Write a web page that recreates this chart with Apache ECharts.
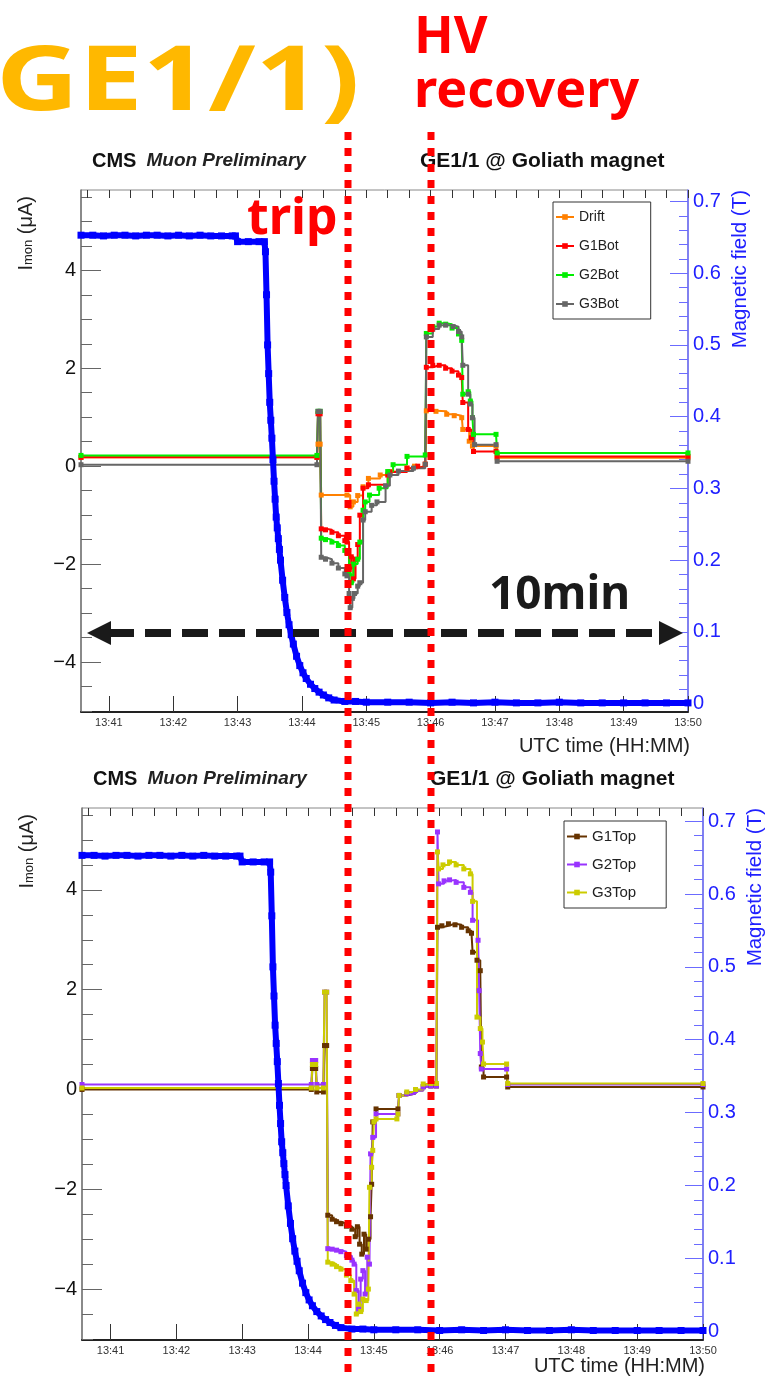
<!DOCTYPE html>
<html>
<head>
<meta charset="utf-8">
<script src="https://cdn.jsdelivr.net/npm/echarts@6/dist/echarts.min.js"></script>
<style>
html, body { margin: 0; padding: 0; background: #fff; }
#main { width: 780px; height: 1387px; }
</style>
</head>
<body>
<div id="main"></div>
<script>
// time in seconds after 13:40:00 UTC
var timeTicks = [60, 120, 180, 240, 300, 360, 420, 480, 540, 600];
var timeLabels = ['13:41', '13:42', '13:43', '13:44', '13:45', '13:46', '13:47', '13:48', '13:49', '13:50'];
var currentTicks = [-4, -2, 0, 2, 4];
var currentLabels = ['\u22124', '\u22122', '0', '2', '4'];
var fieldTicks = [0, 0.1, 0.2, 0.3, 0.4, 0.5, 0.6, 0.7];
var fieldLabels = ['0', '0.1', '0.2', '0.3', '0.4', '0.5', '0.6', '0.7'];

// magnetic field (T)
var bField = [
  [34, 0.653], [45, 0.653], [55, 0.652], [65, 0.653], [75, 0.653], [85, 0.652], [95, 0.653],
  [105, 0.653], [115, 0.652], [125, 0.653], [135, 0.652], [145, 0.653], [155, 0.652], [165, 0.652],
  [175, 0.652], [178, 0.652], [180, 0.644], [190, 0.644], [200, 0.644], [205, 0.644], [206, 0.63],
  [207, 0.57], [208, 0.5], [209, 0.46], [210, 0.42], [211, 0.395], [212, 0.37], [213, 0.34],
  [214, 0.31], [215, 0.285], [216, 0.26], [217, 0.245], [218, 0.23], [219, 0.215], [220, 0.2],
  [222, 0.172], [224, 0.148], [226, 0.127], [228, 0.11], [230, 0.096], [232, 0.083], [235, 0.066],
  [238, 0.053], [241, 0.043], [244, 0.035], [248, 0.027], [252, 0.021], [256, 0.016], [260, 0.012],
  [265, 0.008], [270, 0.005], [280, 0.003], [290, 0.003], [300, 0.002], [320, 0.002], [340, 0.002],
  [360, 0.001], [380, 0.002], [400, 0.001], [420, 0.002], [440, 0.001], [460, 0.001], [480, 0.002],
  [500, 0.001], [520, 0.001], [540, 0.001], [560, 0.001], [580, 0.001], [600, 0.001]
];

// Imon (uA), bottom electrodes
var drift = [
  [34, 0.18], [254, 0.18], [255, 0.45], [257, 0.45], [258, -0.59], [282, -0.59], [285, -0.83],
  [288, -0.73], [292, -0.6], [297, -0.42], [302, -0.25], [313, -0.18], [322, -0.11], [338, -0.04],
  [345, 0.0], [355, 0.04], [356, 1.13], [365, 1.12], [375, 1.06], [382, 1.03], [389, 0.99],
  [390, 0.75], [396, 0.51], [399, 0.41], [421, 0.41], [422, 0.17], [600, 0.17]
];
var g1Bot = [
  [34, 0.18], [254, 0.18], [255, 1.07], [257, 1.07], [258, -1.28], [262, -1.3], [268, -1.35],
  [274, -1.42], [280, -1.52], [282, -1.55], [284, -2.1], [286, -1.85], [288, -2.3], [290, -1.9],
  [292, -1.6], [294, -1.0], [297, -0.45], [302, -0.38], [320, -0.18], [322, -0.12], [338, -0.04],
  [348, 0.0], [355, 0.04], [356, 2.02], [362, 2.06], [368, 2.06], [374, 2.0], [380, 1.94],
  [386, 1.86], [389, 1.81], [390, 1.3], [395, 0.75], [398, 0.58], [400, 0.3], [421, 0.3],
  [422, 0.2], [600, 0.2]
];
var g2Bot = [
  [34, 0.22], [254, 0.22], [255, 1.12], [257, 1.12], [258, -1.47], [262, -1.5], [268, -1.55],
  [274, -1.62], [280, -1.72], [282, -1.76], [284, -2.2], [286, -2.38], [288, -2.0], [292, -1.9],
  [294, -1.55], [297, -0.9], [299, -0.73], [303, -0.59], [312, -0.45], [320, -0.11], [325, 0.03],
  [338, 0.2], [355, 0.23], [356, 2.71], [362, 2.85], [368, 2.92], [374, 2.9], [380, 2.82],
  [386, 2.7], [389, 2.57], [390, 1.47], [395, 1.52], [397, 1.33], [399, 0.99], [400, 0.65],
  [421, 0.65], [422, 0.27], [600, 0.27]
];
var g3Bot = [
  [34, 0.03], [254, 0.03], [255, 1.12], [257, 1.12], [258, -1.86], [262, -1.9], [268, -1.98],
  [274, -2.08], [280, -2.2], [282, -2.24], [284, -2.6], [285, -2.89], [287, -2.7], [289, -2.6],
  [292, -2.45], [294, -2.38], [297, -1.1], [299, -0.93], [305, -0.8], [310, -0.73], [318, -0.4],
  [322, -0.18], [330, -0.1], [344, -0.04], [355, 0.04], [356, 2.64], [362, 2.8], [368, 2.88],
  [374, 2.88], [381, 2.85], [386, 2.75], [389, 2.64], [390, 2.06], [395, 1.47], [397, 1.27],
  [399, 0.99], [401, 0.44], [421, 0.44], [422, 0.1], [600, 0.1]
];

// Imon (uA), top electrodes
var g1Top = [
  [34, 0.0], [243, 0.0], [244, 0.42], [247, 0.42], [248, -0.05], [254, -0.05], [255, 0.88],
  [257, 0.88], [258, -2.52], [262, -2.6], [266, -2.65], [270, -2.69], [275, -2.74], [280, -2.8],
  [283, -2.95], [285, -2.75], [287, -3.1], [289, -3.3], [291, -2.9], [293, -3.2], [295, -3.0],
  [297, -2.55], [298, -1.9], [299, -0.65], [302, -0.39], [322, -0.39], [323, -0.12], [330, -0.08],
  [338, -0.02], [345, 0.06], [352, 0.07], [357, 0.07], [358, 3.25], [362, 3.28], [368, 3.32],
  [374, 3.3], [380, 3.25], [386, 3.18], [389, 3.13], [390, 2.75], [394, 2.59], [397, 2.38],
  [398, 0.45], [400, 0.25], [421, 0.25], [422, 0.05], [600, 0.05]
];
var g2Top = [
  [34, 0.1], [243, 0.1], [244, 0.58], [247, 0.58], [248, 0.1], [254, 0.1], [255, 1.95],
  [257, 1.95], [258, -3.19], [262, -3.2], [266, -3.22], [270, -3.25], [275, -3.33], [280, -3.42],
  [282, -3.5], [284, -4.03], [286, -4.4], [288, -3.8], [290, -3.63], [292, -4.1], [294, -3.36],
  [296, -3.5], [297, -1.29], [299, -0.96], [302, -0.49], [322, -0.49], [323, -0.12], [330, -0.08],
  [338, -0.02], [345, 0.05], [352, 0.07], [357, 0.07], [358, 5.16], [359, 4.12], [364, 4.18],
  [369, 4.2], [375, 4.15], [382, 4.05], [388, 3.95], [390, 3.39], [395, 2.99], [396, 1.98],
  [397, 0.72], [398, 0.41], [421, 0.41], [422, 0.1], [600, 0.1]
];
var g3Top = [
  [34, 0.03], [243, 0.03], [244, 0.5], [247, 0.5], [248, 0.03], [254, 0.03], [255, 1.95],
  [257, 1.95], [258, -3.46], [262, -3.5], [266, -3.55], [270, -3.6], [275, -3.72], [279, -3.83],
  [282, -4.1], [284, -4.5], [286, -4.3], [288, -4.45], [290, -4.2], [293, -4.23], [295, -4.0],
  [296, -1.96], [298, -1.56], [299, -1.22], [300, -0.65], [302, -0.59], [321, -0.59], [322, -0.49],
  [323, -0.12], [330, -0.05], [338, 0.0], [345, 0.11], [352, 0.12], [357, 0.12], [358, 4.76],
  [359, 4.42], [363, 4.5], [369, 4.56], [375, 4.5], [382, 4.42], [388, 4.32], [390, 3.77],
  [394, 1.45], [397, 1.22], [399, 0.95], [400, 0.51], [421, 0.51], [422, 0.12], [600, 0.12]
];

var FONT = '"Liberation Sans", Arial, sans-serif';
var BIG = '"Noto Sans", "DejaVu Sans", sans-serif';

var minorTime = [];
for (var s = 40; s <= 600; s += 20) minorTime.push(s);
var minorCurrent = [];
for (var c = -10; c <= 11; c++) minorCurrent.push(c / 2);
var minorField = [];
for (var f = 0; f <= 35; f++) minorField.push(Math.round(f * 2) / 100);

const mychart = echarts.init(document.getElementById('main'), null, { renderer: 'canvas' });

function timeAxis(grid, namePad) {
  return {
    gridIndex: grid, type: 'value', min: 34, max: 600,
    axisLine: { onZero: false, lineStyle: { color: '#222', width: 2 } },
    axisTick: { customValues: timeTicks, inside: true, length: 16, lineStyle: { color: '#333' } },
    axisLabel: {
      customValues: timeTicks, margin: 5, fontSize: 11, color: '#333', fontFamily: FONT,
      formatter: function (v) { return timeLabels[timeTicks.indexOf(v)]; }
    },
    splitLine: { show: false },
    name: 'UTC time (HH:MM)', nameLocation: 'end', nameGap: 2,
    nameTextStyle: { align: 'right', verticalAlign: 'top', padding: [namePad, 0, 0, 0], fontSize: 20, color: '#222', fontFamily: FONT }
  };
}
function minorTimeAxis(grid) {
  return {
    gridIndex: grid, type: 'value', min: 34, max: 600,
    axisLine: { show: false, onZero: false }, axisLabel: { show: false }, splitLine: { show: false },
    axisTick: { customValues: minorTime, inside: true, length: 8, lineStyle: { color: '#333' } }
  };
}
function currentAxis(grid) {
  return {
    gridIndex: grid, type: 'value', position: 'left', min: -5.02, max: 5.64,
    axisLine: { show: true, onZero: false, lineStyle: { color: '#777', width: 1.5 } },
    axisTick: { customValues: currentTicks, inside: true, length: 20, lineStyle: { color: '#666' } },
    axisLabel: {
      customValues: currentTicks, margin: 5, fontSize: 20, color: '#111', fontFamily: FONT,
      formatter: function (v) { return currentLabels[currentTicks.indexOf(v)]; }
    },
    splitLine: { show: false },
    name: '{a|I}{b|mon}{a| (\u03bcA)}', nameLocation: 'end', nameRotate: 90, nameGap: -6,
    nameTextStyle: {
      align: 'right', verticalAlign: 'bottom', padding: [0, 0, 40, 0],
      rich: {
        a: { fontSize: 20, color: '#222', fontFamily: FONT, padding: [0, 0, 5, 0] },
        b: { fontSize: 13, color: '#222', fontFamily: FONT }
      }
    }
  };
}
function minorCurrentAxis(grid) {
  return {
    gridIndex: grid, type: 'value', position: 'left', min: -5.02, max: 5.64,
    axisLine: { show: false, onZero: false }, axisLabel: { show: false }, splitLine: { show: false },
    axisTick: { customValues: minorCurrent, inside: true, length: 11, lineStyle: { color: '#666' } }
  };
}
function fieldAxis(grid, lo, hi) {
  return {
    gridIndex: grid, type: 'value', position: 'right', min: lo, max: hi,
    axisLine: { show: true, onZero: false, lineStyle: { color: '#6b6bff', width: 1.5 } },
    axisTick: { customValues: fieldTicks, inside: true, length: 18, lineStyle: { color: '#6b6bff' } },
    axisLabel: {
      customValues: fieldTicks, margin: 5, fontSize: 20, color: '#2020ff', fontFamily: FONT,
      formatter: function (v) { return fieldLabels[fieldTicks.indexOf(v)]; }
    },
    splitLine: { show: false },
    name: 'Magnetic field (T)', nameLocation: 'end', nameRotate: 90, nameGap: 0,
    nameTextStyle: { align: 'right', verticalAlign: 'top', padding: [42, 0, 0, 0], fontSize: 20.5, color: '#2020ff', fontFamily: FONT }
  };
}
function minorFieldAxis(grid, lo, hi) {
  return {
    gridIndex: grid, type: 'value', position: 'right', min: lo, max: hi,
    axisLine: { show: false, onZero: false }, axisLabel: { show: false }, splitLine: { show: false },
    axisTick: { customValues: minorField, inside: true, length: 9, lineStyle: { color: '#6b6bff' } }
  };
}
function trace(name, data, color, xi, yi) {
  return {
    name: name, type: 'line', step: 'end', xAxisIndex: xi, yAxisIndex: yi, data: data,
    symbol: 'rect', symbolSize: 5, showAllSymbol: true,
    lineStyle: { color: color, width: 2 }, itemStyle: { color: color }, z: 3
  };
}
function field(xi, yi) {
  return {
    name: 'B', type: 'line', xAxisIndex: xi, yAxisIndex: yi, data: bField,
    symbol: 'rect', symbolSize: 7, showAllSymbol: true,
    lineStyle: { color: '#0000ff', width: 6 }, itemStyle: { color: '#0000ff' }, z: 4
  };
}
function txt(x, y, text, font, color, sx) {
  return { type: 'text', x: x, y: y, z: 100, silent: true, scaleX: sx || 1,
    style: { text: text, font: font, fill: color, align: 'left', verticalAlign: 'middle' } };
}
function dots(x) {
  return { type: 'line', z: 101, silent: true, shape: { x1: x, y1: 132, x2: x, y2: 1378 },
    style: { stroke: '#ff0000', lineWidth: 7, lineDash: [8, 8] } };
}

option = {
  animation: false,
  backgroundColor: '#fff',
  textStyle: { fontFamily: FONT },
  title: [
    { left: 92, top: 151, padding: 0, text: '{b|CMS}  {i|Muon Preliminary}',
      textStyle: { rich: { b: { fontWeight: 'bold', fontSize: 20, color: '#111', fontFamily: FONT },
                           i: { fontStyle: 'italic', fontSize: 19, color: '#222', fontFamily: FONT } } } },
    { left: 420, top: 151, padding: 0, text: 'GE1/1 @ Goliath magnet',
      textStyle: { fontWeight: 'bold', fontSize: 21, color: '#111', fontFamily: FONT } },
    { left: 93, top: 769, padding: 0, text: '{b|CMS}  {i|Muon Preliminary}',
      textStyle: { rich: { b: { fontWeight: 'bold', fontSize: 20, color: '#111', fontFamily: FONT },
                           i: { fontStyle: 'italic', fontSize: 19, color: '#222', fontFamily: FONT } } } },
    { left: 430, top: 769, padding: 0, text: 'GE1/1 @ Goliath magnet',
      textStyle: { fontWeight: 'bold', fontSize: 21, color: '#111', fontFamily: FONT } }
  ],
  legend: [
    { data: ['Drift', 'G1Bot', 'G2Bot', 'G3Bot'], orient: 'vertical', left: 553, top: 202,
      itemWidth: 18, itemHeight: 7, itemGap: 15, padding: [8, 32, 8, 2],
      borderColor: '#333', borderWidth: 1, backgroundColor: '#fff',
      textStyle: { fontSize: 14, color: '#222', fontFamily: FONT } },
    { data: ['G1Top', 'G2Top', 'G3Top'], orient: 'vertical', left: 564, top: 821,
      itemWidth: 20, itemHeight: 7, itemGap: 13, padding: [8, 30, 8, 2],
      borderColor: '#333', borderWidth: 1, backgroundColor: '#fff',
      textStyle: { fontSize: 15, color: '#222', fontFamily: FONT } }
  ],
  grid: [
    { left: 81, top: 190, width: 607, height: 522, show: true, borderColor: '#888', borderWidth: 1,
      containLabel: false, outerBoundsMode: 'none' },
    { left: 82, top: 808, width: 621, height: 532, show: true, borderColor: '#888', borderWidth: 1,
      containLabel: false, outerBoundsMode: 'none' }
  ],
  xAxis: [timeAxis(0, 24), minorTimeAxis(0), timeAxis(1, 16), minorTimeAxis(1)],
  yAxis: [
    currentAxis(0), fieldAxis(0, -0.0117, 0.716), minorCurrentAxis(0), minorFieldAxis(0, -0.0117, 0.716),
    currentAxis(1), fieldAxis(1, -0.012, 0.718), minorCurrentAxis(1), minorFieldAxis(1, -0.012, 0.718)
  ],
  series: [
    trace('Drift', drift, '#ff8000', 0, 0),
    trace('G1Bot', g1Bot, '#ff0000', 0, 0),
    trace('G2Bot', g2Bot, '#00ee00', 0, 0),
    trace('G3Bot', g3Bot, '#666666', 0, 0),
    field(0, 1),
    trace('G1Top', g1Top, '#663300', 2, 4),
    trace('G2Top', g2Top, '#9933ff', 2, 4),
    trace('G3Top', g3Top, '#cccc00', 2, 4),
    field(2, 5)
  ],
  graphic: [
    txt(-4, 84, 'GE1/1)', 'bold 90px ' + BIG, '#ffb800', 1.27),
    txt(414, 38, 'HV', 'bold 52px ' + BIG, '#ff0000'),
    txt(414, 92, 'recovery', 'bold 52px ' + BIG, '#ff0000'),
    txt(247, 220, 'trip', 'bold 50px ' + BIG, '#ff0000'),
    txt(489, 596, '10min', 'bold 46px ' + BIG, '#1a1a1a'),
    { type: 'line', z: 99, silent: true, shape: { x1: 108, y1: 633, x2: 662, y2: 633 },
      style: { stroke: '#1a1a1a', lineWidth: 8, lineDash: [26, 11] } },
    { type: 'polygon', z: 99, silent: true, shape: { points: [[87, 633], [111, 621], [111, 645]] },
      style: { fill: '#1a1a1a' } },
    { type: 'polygon', z: 99, silent: true, shape: { points: [[683, 633], [659, 621], [659, 645]] },
      style: { fill: '#1a1a1a' } },
    dots(348),
    dots(431)
  ]
};
mychart.setOption(option);
window.addEventListener('resize', function () { mychart.resize(); });
</script>
</body>
</html>
